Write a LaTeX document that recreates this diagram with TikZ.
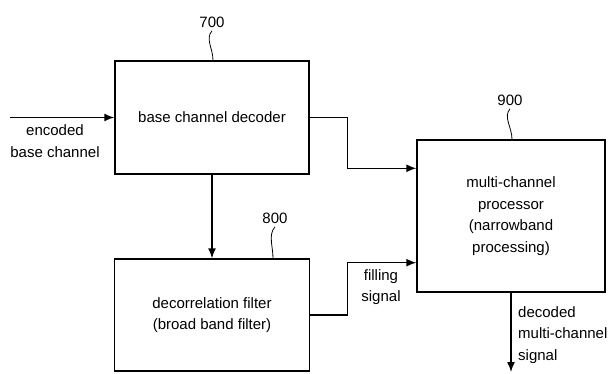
\documentclass[tikz,border=0pt]{standalone}
\usepackage{fontspec}
\setmainfont{Liberation Sans}
\usetikzlibrary{arrows.meta, calc, positioning}

\begin{document}
\begin{tikzpicture}[
    x=1pt, y=1pt,
    font=\fontsize{15}{21.5}\selectfont,
    box/.style={draw, line width=1.4pt, align=center, inner sep=0pt},
    lbl/.style={align=left, inner sep=0pt},
    flow/.style={-{Latex[length=10pt,width=8pt]}, line width=1.4pt},
    wiggle/.style={line width=0.8pt},
]
\useasboundingbox (0,0) rectangle (608,373);
% blocks
\node[box, minimum width=194pt, minimum height=113pt] (dec) at (212,255.5) {base channel decoder};
\node[box, minimum width=195pt, minimum height=112pt] (filt) at (212,58) {decorrelation filter\\(broad band filter)};
\node[box, minimum width=188pt, minimum height=152pt] (proc) at (511,157) {multi-channel\\processor\\(narrowband\\processing)};
% reference numbers
\node (n700) at (212,351) {700};
\node (n800) at (275,155) {800};
\node (n900) at (510,273) {900};
\draw[wiggle] (n700.south) .. controls +(-7,-8) and +(0,12) .. (dec.north -| 213,0);
\draw[wiggle] (n800.south) .. controls +(-7,-8) and +(0,12) .. (filt.north -| 273,0);
\draw[wiggle] (n900.south) .. controls +(-7,-8) and +(0,12) .. (proc.north -| 512,0);
% signals
\coordinate (in) at (10,255.5);
\coordinate (out) at (511,1);
\draw[flow] (in) -- (dec.west);
\node[lbl, align=center] (encl) at (55,232) {encoded\\base channel};
\draw[flow] (dec.south) -- (filt.north);
\draw[flow] (dec.east) -- ++(38,0) |- ([yshift=-29pt]proc.north west);
\draw[flow] (filt.east) -- ++(37,0) |- ([yshift=30pt]proc.south west);
\node[lbl, align=center] (fill) at (381,86) {filling\\signal};
\draw[flow] (proc.south) -- (out);
\node[lbl, anchor=west] (decl) at (518,38) {decoded\\multi-channel\\signal};
\end{tikzpicture}
\end{document}
